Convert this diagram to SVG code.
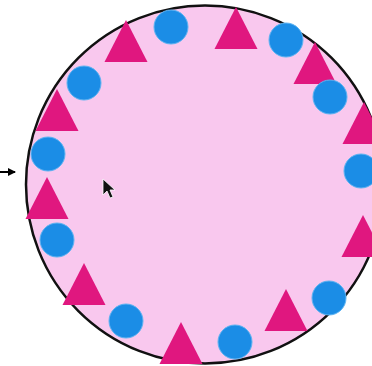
<svg xmlns="http://www.w3.org/2000/svg" width="372" height="366" viewBox="0 0 372 366">
<style>
.ring{fill:#f9c8ee;stroke:#111;stroke-width:2.5}
.dot{fill:#1b8de6;stroke:#5fb4f2;stroke-width:1}
.tri{fill:#e0177f}
.conn{stroke:#000;stroke-width:2;fill:none}
</style>
<defs>
<marker id="ah" markerWidth="8" markerHeight="8" refX="7" refY="4" orient="auto" markerUnits="userSpaceOnUse">
<path d="M0,0 L8,4 L0,8 Z" fill="#000"/>
</marker>
<polygon id="t" points="0,0 -21.5,42 21.5,42"/>
</defs>
<g id="ring"><circle class="ring" cx="205" cy="184.5" r="179"/></g>
<g id="connectors"><line class="conn" x1="0" y1="172" x2="15" y2="172" marker-end="url(#ah)"/></g>
<g id="triangles" class="tri">
<use id="t1" href="#t" x="126" y="20"/>
<use id="t2" href="#t" x="236" y="7"/>
<use id="t3" href="#t" x="315" y="42"/>
<use id="t4" href="#t" x="364" y="102"/>
<use id="t5" href="#t" x="363" y="215"/>
<use id="t6" href="#t" x="286" y="289"/>
<use id="t7" href="#t" x="181" y="322"/>
<use id="t8" href="#t" x="84" y="263"/>
<use id="t9" href="#t" x="47" y="177"/>
<use id="t10" href="#t" x="57" y="89"/>
</g>
<g id="circles">
<circle id="c1" class="dot" cx="171" cy="27" r="17"/>
<circle id="c2" class="dot" cx="286" cy="40" r="17"/>
<circle id="c3" class="dot" cx="330" cy="97" r="17"/>
<circle id="c4" class="dot" cx="361" cy="171" r="17"/>
<circle id="c5" class="dot" cx="329" cy="298" r="17"/>
<circle id="c6" class="dot" cx="235" cy="342" r="17"/>
<circle id="c7" class="dot" cx="126" cy="321" r="17"/>
<circle id="c8" class="dot" cx="57" cy="240" r="17"/>
<circle id="c9" class="dot" cx="48" cy="154" r="17"/>
<circle id="c10" class="dot" cx="84" cy="83" r="17"/>
</g>
<g id="cursor"><path d="M103,179 L103,195 L107,191 L110,198 L113,197 L110,190 L115,190 Z" fill="#111" stroke="#fff" stroke-width="0.8"/></g>
</svg>
